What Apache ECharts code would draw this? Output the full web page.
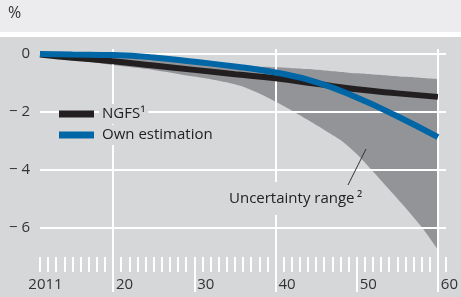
<!DOCTYPE html>
<html>
<head>
<meta charset="utf-8">
<script src="https://cdn.jsdelivr.net/npm/echarts@6/dist/echarts.min.js"></script>
<style>
  html, body { margin: 0; padding: 0; background: #d6d7d9; }
  #chart { width: 461px; height: 297px; }
</style>
</head>
<body>
<div id="chart"></div>
<script>
// years and values
const lineYears = [2011, 2015, 2020, 2025, 2030, 2035, 2040, 2045, 2050, 2055, 2060];
const ngfs = [-0.02, -0.13, -0.25, -0.4, -0.55, -0.7, -0.84, -1.03, -1.22, -1.36, -1.48];
const own = [0, -0.02, -0.04, -0.12, -0.27, -0.43, -0.64, -0.97, -1.5, -2.15, -2.87];

const bandYears = [2011, 2015, 2020, 2025, 2030, 2032, 2034, 2036, 2038, 2040, 2042, 2044, 2046, 2048, 2050, 2052, 2054, 2056, 2058, 2060];
const bandUpper = [0, -0.01, -0.03, -0.1, -0.25, -0.31, -0.37, -0.41, -0.44, -0.46, -0.49, -0.52, -0.57, -0.62, -0.67, -0.71, -0.75, -0.79, -0.83, -0.87];
const bandLower = [0, -0.18, -0.38, -0.55, -0.78, -0.87, -0.98, -1.13, -1.36, -1.64, -1.95, -2.28, -2.62, -2.97, -3.45, -4.05, -4.67, -5.3, -5.97, -6.75];

const yTicks = [0, -2, -4, -6];
const xLabels = [2011, 2020, 2030, 2040, 2050, 2060];
const xMajor = [2020, 2030, 2040, 2050, 2060];
const xGrid = [2020, 2040, 2060];

const TXT = '#333';
const BG = '#d6d7d9';
const FONT = 'Open Sans';

let chart = echarts.init(document.getElementById('chart'));

const pair = (xs, ys) => xs.map((x, i) => [x, ys[i]]);

const baseX = {
  type: 'value',
  position: 'bottom',
  min: 2011,
  max: 2061,
  axisLine: { show: true, onZero: false, lineStyle: { opacity: 0 } },
  axisLabel: { show: false },
  axisTick: { show: false },
  splitLine: { show: false },
  z: 3
};

let options = {
  backgroundColor: BG,
  animation: false,
  textStyle: { fontFamily: FONT },
  grid: { left: 40, right: 14, top: 49, bottom: 40 },
  legend: {
    orient: 'vertical',
    left: 54,
    top: 99,
    itemWidth: 35,
    itemHeight: 7,
    itemGap: 1,
    icon: 'rect',
    data: ['NGFS¹', 'Own estimation'],
    textStyle: {
      color: '#222',
      fontSize: 15,
      fontFamily: FONT,
      backgroundColor: BG,
      padding: [1, 3, 1, 3],
      lineHeight: 18
    },
    z: 6
  },
  xAxis: [
    Object.assign({}, baseX, {
      interval: 1,
      axisTick: { show: true, length: 15, lineStyle: { color: '#fff', width: 2 } },
      axisLabel: {
        show: true,
        customValues: xLabels,
        align: 'center',
        margin: 20,
        formatter: v => (v === 2011 ? '{f|2011}' : '{n|' + String(v).slice(2) + '}'),
        rich: {
          f: { color: TXT, fontSize: 15, fontFamily: FONT, padding: [0, 0, 0, 11] },
          n: { color: TXT, fontSize: 15, fontFamily: FONT, padding: [0, 0, 0, 23] }
        }
      }
    }),
    Object.assign({}, baseX, {
      axisTick: { show: true, customValues: xMajor, length: 35, lineStyle: { color: '#fff', width: 2 } }
    }),
    Object.assign({}, baseX, {
      axisTick: { show: false, customValues: xGrid },
      splitLine: { show: true, lineStyle: { color: '#fff', width: 2 } }
    })
  ],
  yAxis: {
    type: 'value',
    min: -7,
    max: 0.17,
    axisLine: { show: false },
    axisTick: { show: false, customValues: yTicks },
    axisLabel: {
      customValues: yTicks,
      color: TXT,
      fontSize: 15,
      fontFamily: FONT,
      margin: 10,
      formatter: v => (v < 0 ? '\u2212 ' + Math.abs(v) : String(v))
    },
    splitLine: { show: true, lineStyle: { color: '#fff', width: 2 } },
    z: 3
  },
  series: [
    {
      // fill from the lower bound up to the top in band grey
      name: 'lower',
      type: 'line',
      data: pair(bandYears, bandLower),
      symbol: 'none',
      smooth: 0.25,
      lineStyle: { opacity: 0 },
      areaStyle: { color: '#939497', opacity: 1, origin: 'end' },
      z: 1
    },
    {
      // cover from the upper bound up to the top in background colour
      name: 'upper',
      type: 'line',
      data: pair(bandYears, bandUpper),
      symbol: 'none',
      smooth: 0.25,
      lineStyle: { opacity: 0 },
      areaStyle: { color: BG, opacity: 1, origin: 'end' },
      z: 2
    },
    {
      name: 'NGFS¹',
      type: 'line',
      data: pair(lineYears, ngfs),
      symbol: 'none',
      smooth: true,
      color: '#231f20',
      lineStyle: { width: 6, color: '#231f20' },
      z: 5
    },
    {
      name: 'Own estimation',
      type: 'line',
      data: pair(lineYears, own),
      symbol: 'none',
      smooth: true,
      color: '#0066a6',
      lineStyle: { width: 6, color: '#0066a6' },
      z: 5
    }
  ],
  graphic: [
    { type: 'rect', left: 0, top: 0, shape: { width: 461, height: 32 }, style: { fill: '#ececee' }, z: 1 },
    { type: 'rect', left: 0, top: 32, shape: { width: 461, height: 5 }, style: { fill: '#fff' }, z: 1 },
    { type: 'text', left: 8, top: 5, style: { text: '%', fill: TXT, fontSize: 16, fontFamily: FONT }, z: 1 },
    {
      type: 'text', left: 226, top: 182, z: 6,
      style: {
        text: 'Uncertainty range\u2009²', fill: '#222', fontSize: 15, fontFamily: FONT,
        backgroundColor: BG, padding: [9, 3, 9, 3]
      }
    },
    {
      type: 'line', z: 7,
      shape: { x1: 348, y1: 185, x2: 366, y2: 149 },
      style: { stroke: '#333', lineWidth: 1 }
    }
  ]
};

echart = chart;
echart.setOption(options);
</script>
</body>
</html>
